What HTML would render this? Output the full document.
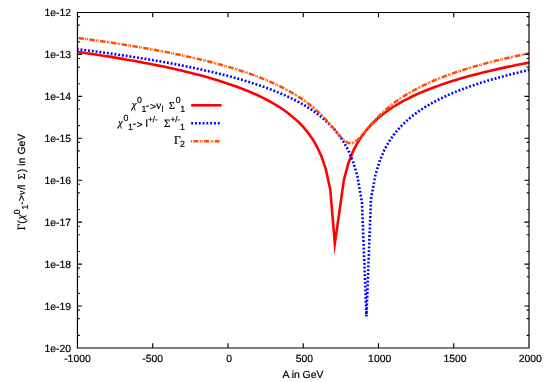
<!DOCTYPE html>
<html><head><meta charset="utf-8"><title>plot</title>
<style>html,body{margin:0;padding:0;background:#fff;}svg{display:block;will-change:transform;opacity:0.999;}
text{font-family:"Liberation Sans",sans-serif;font-size:10.4px;fill:#000;stroke:#000;stroke-width:0.2px;text-rendering:geometricPrecision;}
.sy{font-family:"Liberation Serif",serif;}
.s{font-size:8.8px;}.gl{font-size:11.8px;}.pm{font-size:8.2px;}
.chi{font-size:10.8px;font-style:italic;}.nu{font-size:11.5px;}.sg{font-size:10.4px;}.gm{font-size:11px;}
</style></head><body>
<svg width="545" height="382" viewBox="0 0 545 382">
<rect width="545" height="382" fill="#fff"/>
<g fill="none" stroke-linejoin="miter" stroke-miterlimit="12">
<path d="M77.45,51.89 L81.97,52.54 L86.48,53.19 L91.00,53.85 L95.51,54.53 L100.03,55.22 L104.54,55.92 L109.06,56.64 L113.57,57.37 L118.09,58.12 L122.61,58.88 L127.12,59.66 L131.64,60.45 L136.15,61.27 L140.67,62.10 L145.18,62.95 L149.70,63.82 L154.21,64.71 L158.73,65.63 L163.24,66.57 L167.76,67.53 L172.28,68.52 L176.79,69.54 L181.31,70.59 L185.82,71.66 L190.34,72.77 L194.85,73.92 L199.37,75.10 L203.88,76.32 L208.40,77.59 L212.92,78.90 L217.43,80.26 L221.95,81.67 L226.46,83.14 L230.98,84.67 L235.49,86.27 L240.01,87.94 L244.52,89.69 L249.04,91.53 L253.55,93.47 L258.07,95.52 L262.59,97.69 L267.10,99.99 L271.62,102.45 L276.13,105.10 L280.65,107.94 L285.16,111.03 L289.68,114.41 L294.19,118.13 L298.71,122.27 L303.23,126.95 L307.74,132.32 L312.26,138.62 L316.77,146.24 L321.29,155.89 L325.80,169.05 L330.32,189.87 L334.83,243.59 L339.35,212.15 L343.86,179.94 L348.38,163.12 L352.90,151.65 L357.41,142.95 L361.93,135.92 L366.44,130.04 L370.96,124.98 L375.47,120.53 L379.99,116.57 L384.50,113.00 L389.02,109.74 L393.53,106.76 L398.05,104.00 L402.57,101.43 L407.08,99.04 L411.60,96.79 L416.11,94.67 L420.63,92.67 L425.14,90.77 L429.66,88.97 L434.17,87.25 L438.69,85.61 L443.21,84.04 L447.72,82.54 L452.24,81.09 L456.75,79.70 L461.27,78.36 L465.78,77.07 L470.30,75.82 L474.81,74.62 L479.33,73.45 L483.85,72.32 L488.36,71.22 L492.88,70.16 L497.39,69.12 L501.91,68.12 L506.42,67.14 L510.94,66.18 L515.45,65.25 L519.97,64.35 L524.48,63.46 L529.00,62.60" stroke="#ff0000" stroke-width="2.6"/>
<path d="M77.45,49.15 L81.97,49.72 L86.48,50.30 L91.00,50.90 L95.51,51.50 L100.03,52.11 L104.54,52.73 L109.06,53.37 L113.57,54.01 L118.09,54.67 L122.61,55.34 L127.12,56.02 L131.64,56.71 L136.15,57.42 L140.67,58.14 L145.18,58.88 L149.70,59.63 L154.21,60.40 L158.73,61.18 L163.24,61.98 L167.76,62.80 L172.28,63.64 L176.79,64.50 L181.31,65.38 L185.82,66.28 L190.34,67.20 L194.85,68.15 L199.37,69.12 L203.88,70.12 L208.40,71.15 L212.92,72.20 L217.43,73.29 L221.95,74.42 L226.46,75.57 L230.98,76.77 L235.49,78.01 L240.01,79.29 L244.52,80.61 L249.04,81.99 L253.55,83.42 L258.07,84.91 L262.59,86.46 L267.10,88.08 L271.62,89.78 L276.13,91.56 L280.65,93.43 L285.16,95.41 L289.68,97.49 L294.19,99.71 L298.71,102.06 L303.23,104.58 L307.74,107.29 L312.26,110.22 L316.77,113.40 L321.29,116.88 L325.80,120.74 L330.32,125.05 L334.83,129.94 L339.35,135.59 L343.86,142.28 L348.38,150.48 L352.90,161.09 L357.41,176.12 L361.93,202.14 L366.44,316.34 L370.96,199.11 L375.47,174.60 L379.99,160.08 L384.50,149.73 L389.02,141.67 L393.53,135.08 L398.05,129.51 L402.57,124.67 L407.08,120.40 L411.60,116.58 L416.11,113.12 L420.63,109.96 L425.14,107.06 L429.66,104.37 L434.17,101.86 L438.69,99.52 L443.21,97.32 L447.72,95.24 L452.24,93.27 L456.75,91.41 L461.27,89.64 L465.78,87.95 L470.30,86.33 L474.81,84.78 L479.33,83.30 L483.85,81.87 L488.36,80.50 L492.88,79.18 L497.39,77.90 L501.91,76.67 L506.42,75.48 L510.94,74.32 L515.45,73.20 L519.97,72.12 L524.48,71.06 L529.00,70.04" stroke="#0000ff" stroke-width="2.6" stroke-dasharray="1.9 1.9" stroke-dashoffset="0.7"/>
<path d="M77.45,37.85 L81.97,38.45 L86.48,39.07 L91.00,39.69 L95.51,40.33 L100.03,40.98 L104.54,41.64 L109.06,42.31 L113.57,42.99 L118.09,43.69 L122.61,44.40 L127.12,45.13 L131.64,45.87 L136.15,46.62 L140.67,47.39 L145.18,48.18 L149.70,48.98 L154.21,49.81 L158.73,50.65 L163.24,51.51 L167.76,52.39 L172.28,53.30 L176.79,54.22 L181.31,55.17 L185.82,56.15 L190.34,57.15 L194.85,58.18 L199.37,59.24 L203.88,60.34 L208.40,61.46 L212.92,62.62 L217.43,63.82 L221.95,65.06 L226.46,66.34 L230.98,67.67 L235.49,69.05 L240.01,70.48 L244.52,71.97 L249.04,73.52 L253.55,75.14 L258.07,76.83 L262.59,78.60 L267.10,80.46 L271.62,82.41 L276.13,84.48 L280.65,86.66 L285.16,88.97 L289.68,91.43 L294.19,94.06 L298.71,96.88 L303.23,99.91 L307.74,103.19 L312.26,106.74 L316.77,110.62 L321.29,114.86 L325.80,119.50 L330.32,124.54 L334.83,129.90 L339.35,135.32 L343.86,140.11 L348.38,143.10 L352.90,143.14 L357.41,140.21 L361.93,135.45 L366.44,130.04 L370.96,124.67 L375.47,119.62 L379.99,114.97 L384.50,110.72 L389.02,106.84 L393.53,103.27 L398.05,99.99 L402.57,96.95 L407.08,94.13 L411.60,91.50 L416.11,89.03 L420.63,86.71 L425.14,84.53 L429.66,82.46 L434.17,80.51 L438.69,78.65 L443.21,76.87 L447.72,75.18 L452.24,73.56 L456.75,72.01 L461.27,70.52 L465.78,69.08 L470.30,67.71 L474.81,66.38 L479.33,65.09 L483.85,63.85 L488.36,62.65 L492.88,61.49 L497.39,60.36 L501.91,59.27 L506.42,58.21 L510.94,57.18 L515.45,56.17 L519.97,55.20 L524.48,54.25 L529.00,53.32" stroke="#ff4d00" stroke-width="2.5" stroke-dasharray="1 1.5 5.5 1.3 1 0.6" stroke-dashoffset="1.4"/>
<path d="M191.2,105.3H221.5" stroke="#ff0000" stroke-width="2.6"/>
<path d="M191.2,123.3H221.5" stroke="#0000ff" stroke-width="2.6" stroke-dasharray="1.9 1.9"/>
<path d="M190.9,141.2H221.5" stroke="#ff4d00" stroke-width="2.4" stroke-dasharray="1 1.5 4.8 1.6 1 0.8"/>
</g>
<path d="M77.45,12.50H529.00V347.95H77.45ZM77.45,347.95v-4.80M77.45,12.50v4.80M152.71,347.95v-4.80M152.71,12.50v4.80M227.97,347.95v-4.80M227.97,12.50v4.80M303.23,347.95v-4.80M303.23,12.50v4.80M378.48,347.95v-4.80M378.48,12.50v4.80M453.74,347.95v-4.80M453.74,12.50v4.80M529.00,347.95v-4.80M529.00,12.50v4.80M77.45,12.50h4.60M529.00,12.50h-4.60M77.45,41.81h2.30M529.00,41.81h-2.30M77.45,25.12h2.30M529.00,25.12h-2.30M77.45,16.56h2.30M529.00,16.56h-2.30M77.45,54.43h4.60M529.00,54.43h-4.60M77.45,83.74h2.30M529.00,83.74h-2.30M77.45,67.05h2.30M529.00,67.05h-2.30M77.45,58.49h2.30M529.00,58.49h-2.30M77.45,96.36h4.60M529.00,96.36h-4.60M77.45,125.67h2.30M529.00,125.67h-2.30M77.45,108.99h2.30M529.00,108.99h-2.30M77.45,100.43h2.30M529.00,100.43h-2.30M77.45,138.29h4.60M529.00,138.29h-4.60M77.45,167.60h2.30M529.00,167.60h-2.30M77.45,150.92h2.30M529.00,150.92h-2.30M77.45,142.36h2.30M529.00,142.36h-2.30M77.45,180.22h4.60M529.00,180.22h-4.60M77.45,209.53h2.30M529.00,209.53h-2.30M77.45,192.85h2.30M529.00,192.85h-2.30M77.45,184.29h2.30M529.00,184.29h-2.30M77.45,222.16h4.60M529.00,222.16h-4.60M77.45,251.46h2.30M529.00,251.46h-2.30M77.45,234.78h2.30M529.00,234.78h-2.30M77.45,226.22h2.30M529.00,226.22h-2.30M77.45,264.09h4.60M529.00,264.09h-4.60M77.45,293.40h2.30M529.00,293.40h-2.30M77.45,276.71h2.30M529.00,276.71h-2.30M77.45,268.15h2.30M529.00,268.15h-2.30M77.45,306.02h4.60M529.00,306.02h-4.60M77.45,335.33h2.30M529.00,335.33h-2.30M77.45,318.64h2.30M529.00,318.64h-2.30M77.45,310.08h2.30M529.00,310.08h-2.30M77.45,347.95h4.60M529.00,347.95h-4.60" fill="none" stroke="#000" stroke-width="1.15" stroke-linecap="butt"/>
<text x="71" y="16.10" text-anchor="end">1e-12</text>
<text x="71" y="58.03" text-anchor="end">1e-13</text>
<text x="71" y="99.96" text-anchor="end">1e-14</text>
<text x="71" y="141.89" text-anchor="end">1e-15</text>
<text x="71" y="183.82" text-anchor="end">1e-16</text>
<text x="71" y="225.76" text-anchor="end">1e-17</text>
<text x="71" y="267.69" text-anchor="end">1e-18</text>
<text x="71" y="309.62" text-anchor="end">1e-19</text>
<text x="71" y="351.55" text-anchor="end">1e-20</text>
<text x="77.45" y="361.7" text-anchor="middle">-1000</text>
<text x="152.71" y="361.7" text-anchor="middle">-500</text>
<text x="229.17" y="361.7" text-anchor="middle">0</text>
<text x="304.43" y="361.7" text-anchor="middle">500</text>
<text x="379.68" y="361.7" text-anchor="middle">1000</text>
<text x="454.94" y="361.7" text-anchor="middle">1500</text>
<text x="530.20" y="361.7" text-anchor="middle">2000</text>
<text x="302.9" y="377.6" text-anchor="middle">A in GeV</text>
<g transform="translate(24.6,232.2) rotate(-90)">
<text x="2.00" y="0.00" class="sy gm">Γ</text>
<text x="8.40" y="0.00">(</text>
<text x="13.00" y="-1.00" class="sy chi">χ</text>
<text x="17.90" y="-5.00" class="s">0</text>
<text x="22.70" y="3.00" class="s">1</text>
<text x="27.40" y="0.00">-</text>
<text x="30.90" y="0.00">&gt;</text>
<text x="37.00" y="0.00" class="sy">ν</text>
<text x="42.35" y="0.00">/</text>
<text x="45.25" y="0.00">l</text>
<text x="52.80" y="0.00" class="sy sg">Σ</text>
<text x="60.05" y="0.00">)</text>
<text x="66.35" y="0.00">in</text>
<text x="77.60" y="0.00">GeV</text>
</g>
<text x="131.80" y="108.00" class="sy chi">χ</text>
<text x="137.10" y="103.00" class="s">0</text>
<text x="141.40" y="112.00" class="s">1</text>
<text x="145.80" y="109.00">-</text>
<text x="149.90" y="110.00">&gt;</text>
<text x="155.90" y="109.00" class="sy nu">ν</text>
<text x="161.50" y="112.00" class="s">l</text>
<text x="168.70" y="109.00" class="sy sg">Σ</text>
<text x="175.70" y="103.00" class="s">0</text>
<text x="180.30" y="112.00" class="s">1</text>
<text x="118.10" y="126.00" class="sy chi">χ</text>
<text x="123.50" y="121.00" class="s">0</text>
<text x="128.00" y="130.00" class="s">1</text>
<text x="132.80" y="127.00">-</text>
<text x="136.40" y="128.00">&gt;</text>
<text x="145.40" y="127.00">l</text>
<text x="147.90" y="122.00" class="pm">+/-</text>
<text x="164.10" y="127.00" class="sy gm">Σ</text>
<text x="170.50" y="122.00" class="pm">+/-</text>
<text x="180.10" y="130.00" class="s">1</text>
<text x="173.90" y="143.50" class="sy gl">Γ</text>
<text x="179.90" y="147.00" class="s">2</text>
</svg></body></html>
